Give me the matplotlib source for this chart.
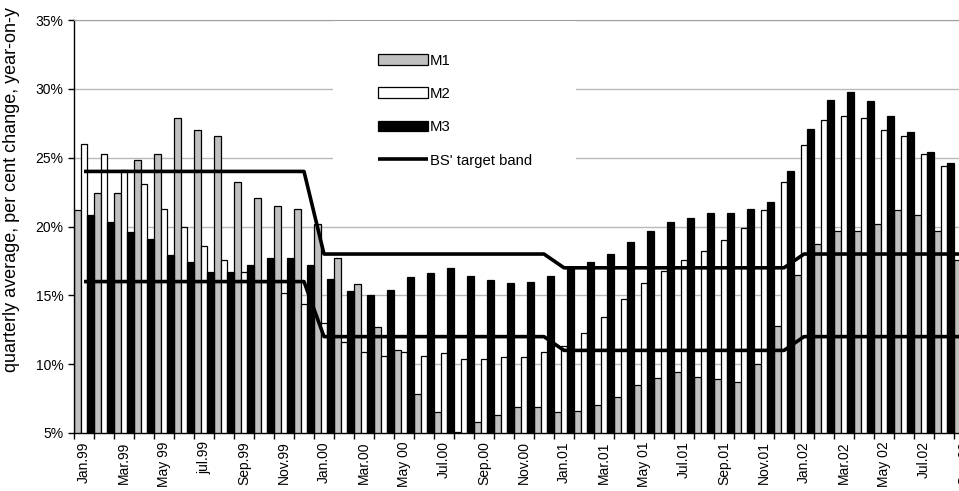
import numpy as np
import matplotlib.pyplot as plt

# monthly data, Jan.99 - Sep.02, quarterly average y-o-y % change
months = ["Jan.99", "Feb.99", "Mar.99", "Apr.99", "May 99", "Jun.99", "jul.99", "Aug.99",
          "Sep.99", "Oct.99", "Nov.99", "Dec.99",
          "Jan.00", "Feb.00", "Mar.00", "Apr.00", "May 00", "Jun.00", "Jul.00", "Aug.00",
          "Sep.00", "Oct.00", "Nov.00", "Dec.00",
          "Jan.01", "Feb.01", "Mar.01", "Apr.01", "May 01", "Jun.01", "Jul.01", "Aug.01",
          "Sep.01", "Oct.01", "Nov.01", "Dec.01",
          "Jan.02", "Feb.02", "Mar.02", "Apr.02", "May 02", "Jun.02", "Jul.02", "Aug.02",
          "Sep.02"]

m1 = [21.2, 22.4, 22.4, 24.8, 25.3, 27.9, 27.0, 26.6, 23.2, 22.1, 21.5, 21.3,
      20.2, 17.7, 15.8, 12.7, 11.0, 7.8, 6.5, 5.1, 5.8, 6.3, 6.9, 6.9,
      6.5, 6.6, 7.0, 7.6, 8.5, 9.0, 9.4, 9.1, 8.9, 8.7, 10.0, 12.8,
      16.5, 18.7, 19.7, 19.7, 20.2, 21.2, 20.8, 19.7, 17.6]
m2 = [26.0, 25.3, 24.1, 23.1, 21.3, 20.0, 18.6, 17.6, 16.7, 16.0, 15.2, 14.4,
      13.0, 11.6, 10.9, 10.6, 10.9, 10.6, 10.8, 10.4, 10.4, 10.5, 10.5, 10.9,
      11.3, 12.3, 13.4, 14.7, 15.9, 16.8, 17.6, 18.2, 19.0, 19.9, 21.2, 23.2,
      25.9, 27.7, 28.0, 27.9, 27.0, 26.6, 25.3, 24.4, 22.8]
m3 = [20.8, 20.3, 19.6, 19.1, 17.9, 17.4, 16.7, 16.7, 17.2, 17.7, 17.7, 17.2,
      16.2, 15.3, 15.0, 15.4, 16.3, 16.6, 17.0, 16.4, 16.1, 15.9, 16.0, 16.4,
      17.0, 17.4, 18.0, 18.9, 19.7, 20.3, 20.6, 21.0, 21.0, 21.3, 21.8, 24.0,
      27.1, 29.2, 29.8, 29.1, 28.0, 26.9, 25.4, 24.6, 23.0]

band_hi = [24] * 12 + [18] * 12 + [17] * 12 + [18] * 9
band_lo = [16] * 12 + [12] * 12 + [11] * 12 + [12] * 9

plt.rcParams['font.family'] = ['Liberation Sans', 'DejaVu Sans']

fig = plt.figure(figsize=(9.59, 4.91), dpi=100)
# plot area runs past the right edge (picture is cropped in Sep.02)
ax = fig.add_axes([74 / 959, 58 / 491, 900 / 959, 413 / 491])

x = np.arange(len(months))
w = 1 / 3
b1 = ax.bar(x - w, m1, w, color='#c0c0c0', edgecolor='black', linewidth=0.9, label='M1')
b2 = ax.bar(x, m2, w, color='white', edgecolor='black', linewidth=0.9, label='M2')
b3 = ax.bar(x + w, m3, w, color='black', edgecolor='black', linewidth=0.9, label='M3')
l1, = ax.plot(x, band_hi, color='black', lw=2.6, solid_capstyle='butt',
              label="BS' target band")
ax.plot(x, band_lo, color='black', lw=2.6, solid_capstyle='butt')

ax.set_xlim(-0.5, len(months) - 0.5)
ax.set_ylim(5, 35)
ax.set_yticks(range(5, 36, 5))
ax.set_yticklabels([f"{v}%" for v in range(5, 36, 5)])
ax.yaxis.grid(True, color='#b8b8b8', lw=1)
ax.set_axisbelow(True)

ax.set_xticks(np.arange(-0.5, len(months), 1))
ax.set_xticklabels([])
ax.set_xticks(x[::2], minor=True)
ax.set_xticklabels(months[::2], minor=True, rotation=90, va='top', ha='center')
ax.tick_params(axis='x', which='major', direction='out', length=4, width=1)
ax.tick_params(axis='x', which='minor', length=0, pad=6, labelsize=10)
ax.tick_params(axis='y', direction='out', length=4, width=1, labelsize=10)

ax.spines['right'].set_visible(False)
ax.spines['top'].set_color('#a0a0a0')
ax.spines['left'].set_linewidth(1)
ax.spines['bottom'].set_linewidth(1)

fig.text(12 / 959, 1 - 190 / 491, "quarterly average, per cent change, year-on-y",
         rotation=90, ha='center', va='center', fontsize=13)

leg = ax.legend(handles=[b1, b2, b3, l1], loc='upper left',
                bbox_to_anchor=(333 / 959, 1 - 9 / 491), bbox_transform=fig.transFigure,
                borderaxespad=0, borderpad=3.0, frameon=True, fancybox=False,
                edgecolor='none', facecolor='white', framealpha=1,
                handlelength=3.4, handleheight=0.75, handletextpad=0.1,
                labelspacing=1.3, fontsize=10.7)
leg.set_zorder(2.4)

fig.savefig('out.png', dpi=100)
